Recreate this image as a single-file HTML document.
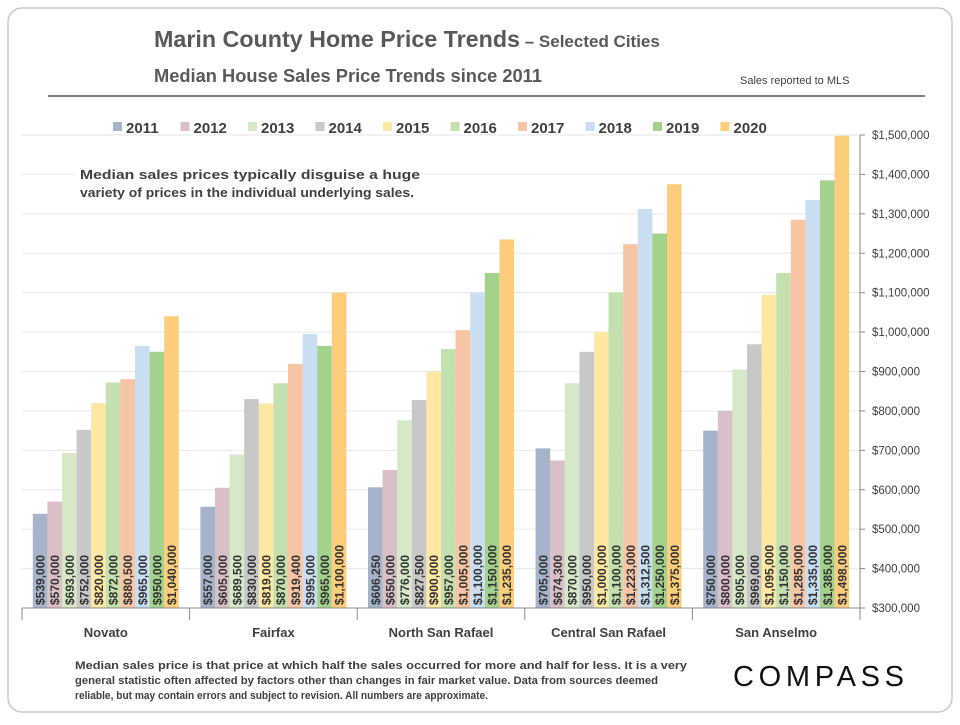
<!DOCTYPE html>
<html><head><meta charset="utf-8">
<style>
body{margin:0;background:#fff;}
svg text{font-family:"Liberation Sans",sans-serif;}
</style></head>
<body>
<svg id="c" width="960" height="720" xmlns="http://www.w3.org/2000/svg">
<rect x="8" y="8" width="944" height="704" rx="14" fill="#fff" stroke="#c8c8c8" stroke-width="1.5"/>
<text x="154" y="47" font-size="23" font-weight="bold" fill="#595959"><tspan textLength="366" lengthAdjust="spacingAndGlyphs">Marin County Home Price Trends</tspan><tspan font-size="17"> – Selected Cities</tspan></text>
<text x="154" y="82" font-size="18" font-weight="bold" fill="#595959" textLength="388" lengthAdjust="spacingAndGlyphs">Median House Sales Price Trends since 2011</text>
<text x="740" y="84" font-size="11" fill="#404040">Sales reported to MLS</text>
<line x1="48" y1="96" x2="925" y2="96" stroke="#7f7f7f" stroke-width="2"/>
<g id="grid"></g>
<rect x="74" y="164" width="350" height="40" fill="#fff"/>
<text x="80" y="179" font-size="12.5" font-weight="bold" fill="#404040" textLength="340" lengthAdjust="spacingAndGlyphs">Median sales prices typically disguise a huge</text>
<text x="80" y="197" font-size="12.5" font-weight="bold" fill="#404040" textLength="334" lengthAdjust="spacingAndGlyphs">variety of prices in the individual underlying sales.</text>
<g id="bars"></g><g id="axes"></g><g id="legend"></g>
<text x="75" y="669" font-size="10.8" font-weight="bold" fill="#404040" textLength="612" lengthAdjust="spacingAndGlyphs">Median sales price is that price at which half the sales occurred for more and half for less. It is a very</text>
<text x="75" y="684" font-size="10.8" font-weight="bold" fill="#404040" textLength="583" lengthAdjust="spacingAndGlyphs">general statistic often affected by factors other than changes in fair market value. Data from sources deemed</text>
<text x="75" y="699" font-size="10.8" font-weight="bold" fill="#404040" textLength="413" lengthAdjust="spacingAndGlyphs">reliable, but may contain errors and subject to revision. All numbers are approximate.</text>
<text x="733" y="686" font-size="29" fill="#111" letter-spacing="4" textLength="175">COMPASS</text>
</svg>
<script>
const cities=["Novato","Fairfax","North San Rafael","Central San Rafael","San Anselmo"];
const years=["2011","2012","2013","2014","2015","2016","2017","2018","2019","2020"];
const colors=["#a6b4ca","#d8c0c6","#d5e8c8","#c8c8c8","#fde7a2","#c3e0ae","#f7c4a4","#cadef1","#a4d18b","#fdcd7b"];
const v2011=[539000,557000,606250,705000,750000];
const v2012=[570000,605000,650000,674300,800000];
const v2013=[693000,689500,776000,870000,905000];
const v2014=[752000,830000,827500,950000,969000];
const v2015=[820000,819000,900000,1000000,1095000];
const v2016=[872000,870000,957000,1100000,1150000];
const v2017=[880500,919400,1005000,1223000,1285000];
const v2018=[965000,995000,1100000,1312500,1335000];
const v2019=[950000,965000,1150000,1250000,1385000];
const v2020=[1040000,1100000,1235000,1375000,1498000];
const ticks=[300000,400000,500000,600000,700000,800000,900000,1000000,1100000,1200000,1300000,1400000,1500000];
const series=[v2011,v2012,v2013,v2014,v2015,v2016,v2017,v2018,v2019,v2020];
const NS="http://www.w3.org/2000/svg";
const L=22,R=860,T=135,B=608,ymin=300000,ymax=1500000;
const y=v=>B-(v-ymin)/(ymax-ymin)*(B-T);
const gw=(R-L)/cities.length,bw=14.6;
const fmt=v=>"$"+v.toLocaleString("en-US");
function mk(tag,at,parent){const e=document.createElementNS(NS,tag);for(const k in at)e.setAttribute(k,at[k]);document.getElementById(parent).appendChild(e);return e;}
ticks.forEach(t=>{
 const g=mk("line",{x1:L,x2:R,y1:y(t),y2:y(t),stroke:"#e6e6e6"},"grid");
 
 
 const tk=mk("line",{x1:R,x2:R+5,y1:y(t),y2:y(t),stroke:"#888"},"axes");
 
 
 const tx=mk("text",{x:R+12,y:y(t)+4,"font-size":"11.5",fill:"#404040"},"axes");
 tx.textContent=fmt(t);
 
 
});
cities.forEach((c,i)=>{
 const x0=L+i*gw+(gw-bw*years.length)/2;
 series.forEach((s,j)=>{
  const x=x0+j*bw,v=s[i];
  const r=mk("rect",{x:x,y:y(v),width:bw,height:B-y(v),fill:colors[j]},"bars");
  
  
  const t=mk("text",{transform:`translate(${x+bw/2+4.5},${B-3}) rotate(-90)`,"font-size":"12","font-weight":"bold",fill:"#333"},"bars");
  t.textContent=fmt(v);
  
  
 });
 const cl=mk("text",{x:L+i*gw+gw/2,y:637,"text-anchor":"middle","font-size":"13","font-weight":"bold",fill:"#404040"},"axes");
 cl.textContent=c;
 
 
});
for(let i=0;i<=cities.length;i++){
 const d=mk("line",{x1:L+i*gw,x2:L+i*gw,y1:B,y2:B+12,stroke:"#888"},"axes");
 
 
}
const xa=mk("line",{x1:L,x2:R,y1:B,y2:B,stroke:"#888"},"axes");


const ya=mk("line",{x1:R,x2:R,y1:T,y2:B,stroke:"#888"},"axes");


years.forEach((yr,j)=>{
 const lx=113+j*67.5;
 const sw=mk("rect",{x:lx,y:122,width:9,height:9,fill:colors[j]},"legend");
 
 
 const lt=mk("text",{x:lx+13,y:133,"font-size":"15","font-weight":"bold",fill:"#404040"},"legend");
 lt.textContent=yr;
 
 
});
</script>
</body></html>
